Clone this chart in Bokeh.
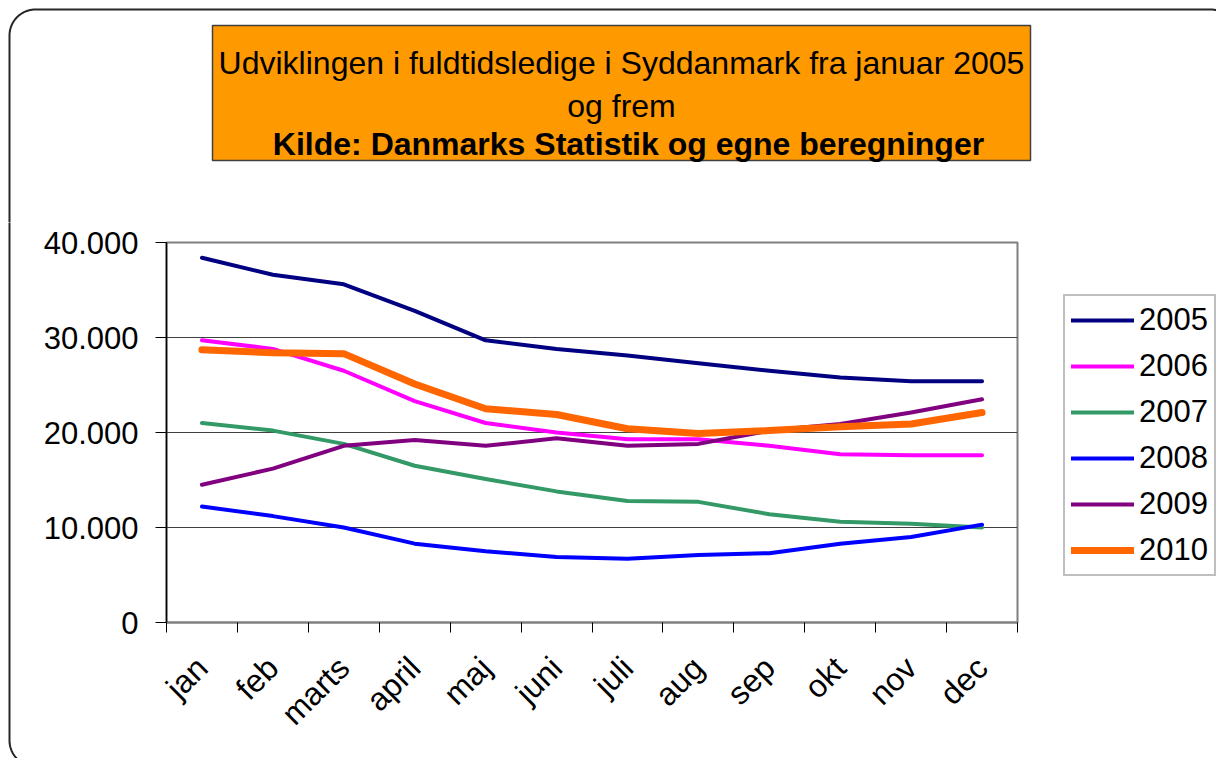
import math
import numpy as np
from bokeh.plotting import figure
from bokeh.layouts import column, row
from bokeh.models import FixedTicker, Legend, LegendItem, Range1d, Plot
from bokeh.core.properties import value
from bokeh.embed import file_html
from bokeh.resources import INLINE

months = ["jan", "feb", "marts", "april", "maj", "juni", "juli", "aug", "sep", "okt", "nov", "dec"]
years = ["2005", "2006", "2007", "2008", "2009", "2010"]
y2005 = [38400, 36600, 35600, 32800, 29700, 28800, 28100, 27300, 26500, 25800, 25400, 25400]
y2006 = [29700, 28800, 26500, 23300, 21000, 20000, 19300, 19300, 18600, 17700, 17600, 17600]
y2007 = [21000, 20200, 18800, 16500, 15100, 13800, 12800, 12700, 11400, 10600, 10400, 10000]
y2008 = [12200, 11200, 10000, 8300, 7500, 6900, 6700, 7100, 7300, 8300, 9000, 10300]
y2009 = [14500, 16200, 18600, 19200, 18600, 19400, 18600, 18800, 20200, 20900, 22100, 23500]
y2010 = [28700, 28400, 28300, 25100, 22500, 21900, 20400, 19900, 20200, 20600, 20900, 22100]
y_ticks = [0, 10000, 20000, 30000, 40000]
y_tick_labels = ["0", "10.000", "20.000", "30.000", "40.000"]
title_lines = ["Udviklingen i fuldtidsledige i Syddanmark fra januar 2005", "og frem",
               "Kilde: Danmarks Statistik og egne beregninger"]

series = [y2005, y2006, y2007, y2008, y2009, y2010]
colors = ["#000080", "#FF00FF", "#339966", "#0000FF", "#800080", "#FF6600"]
widths = [4, 4, 4, 4, 4, 7]

FONT = "Liberation Sans"
W, H = 1216, 758
TOP_H = 222      # height of the title strip
STRIP_W = 40     # width of the left border strip
LEG_W = 176      # width of the legend area
CHART_W = W - STRIP_W - LEG_W
BL, BR, BT, BB = 9, 1236, 9, 766   # outer rounded frame edges (page pixels)
RADIUS = 26
BORDER_COLOR = "#262626"
HAS_FRAME_ALIGN = "frame_align" in Plot.properties()


def unalign(f):
    if HAS_FRAME_ALIGN:
        f.frame_align = False
    return f


def blank(width, height, xr, yr):
    f = figure(width=width, height=height, x_range=xr, y_range=yr,
               x_axis_type=None, y_axis_type=None, output_backend="svg",
               toolbar_location=None, min_border=0)
    f.outline_line_color = None
    f.background_fill_color = "white"
    f.border_fill_color = "white"
    f.grid.grid_line_color = None
    return unalign(f)


def corner(cx, cy, a0, a1, n=24):
    t = np.linspace(a0, a1, n)
    return list(cx + RADIUS * np.cos(t)), list(cy + RADIUS * np.sin(t))


# ---------- title strip (y grows downward) ----------
top = blank(W, TOP_H, Range1d(0, W), Range1d(TOP_H, 0))
cx1, cy1 = corner(BL + RADIUS, BT + RADIUS, math.pi, 1.5 * math.pi)
cx2, cy2 = corner(BR - RADIUS, BT + RADIUS, 1.5 * math.pi, 2 * math.pi)
top.line([BL] + cx1 + cx2 + [BR], [TOP_H + 2] + cy1 + cy2 + [TOP_H + 2],
         line_color=BORDER_COLOR, line_width=2)
top.quad(left=[212], right=[1030], top=[25], bottom=[160],
         fill_color="#FF9900", line_color="#404040", line_width=1.5)
top.text(x=[621, 621], y=[62, 105], text=title_lines[:2], text_align="center",
         text_baseline="alphabetic", text_font=value(FONT), text_font_size="32px",
         text_color="black")
top.text(x=[628], y=[143], text=title_lines[2:], text_align="center",
         text_baseline="alphabetic", text_font=value(FONT), text_font_size="32px",
         text_font_style="bold", text_color="black")

# ---------- left border strip (y grows downward) ----------
strip = blank(STRIP_W, H - TOP_H, Range1d(0, STRIP_W), Range1d(H, TOP_H))
cx3, cy3 = corner(BL + RADIUS, BB - RADIUS, math.pi, 0.5 * math.pi)
strip.line([BL] + cx3 + [STRIP_W + 2], [TOP_H - 2] + cy3 + [BB],
           line_color=BORDER_COLOR, line_width=2)

# ---------- chart ----------
x = [i + 0.5 for i in range(len(months))]
p = figure(width=CHART_W, height=H - TOP_H,
           x_range=Range1d(0, len(months)), y_range=Range1d(0, 40000),
           output_backend="svg", toolbar_location=None,
           min_border_left=166 - STRIP_W, min_border_right=CHART_W - (1017 - STRIP_W),
           min_border_top=242 - TOP_H, min_border_bottom=H - 622)
unalign(p)
p.background_fill_color = "white"
p.border_fill_color = "white"
p.outline_line_color = "#808080"
p.outline_line_width = 2

for ys, c, w in zip(series, colors, widths):
    p.line(x, ys, line_color=c, line_width=w, line_cap="round", line_join="round")

xa = p.xaxis[0]
xa.ticker = FixedTicker(ticks=x, minor_ticks=list(range(len(months) + 1)))
xa.major_label_overrides = {xx: m for xx, m in zip(x, months)}
xa.major_label_orientation = math.pi / 4
xa.major_tick_out = 0
xa.major_tick_in = 0
xa.minor_tick_out = 10
xa.minor_tick_in = 0
xa.minor_tick_line_color = "black"
xa.minor_tick_line_width = 1
xa.axis_line_color = "#808080"
xa.axis_line_width = 2
xa.major_label_text_font = FONT
xa.major_label_text_font_size = "32px"
xa.major_label_text_color = "black"
xa.major_label_standoff = 30

ya = p.yaxis[0]
ya.ticker = FixedTicker(ticks=y_ticks)
ya.major_label_overrides = {t: l for t, l in zip(y_ticks, y_tick_labels)}
ya.major_tick_out = 11
ya.major_tick_in = 0
ya.major_tick_line_color = "black"
ya.minor_tick_line_color = None
ya.axis_line_color = "black"
ya.axis_line_width = 1.5
ya.major_label_text_font = FONT
ya.major_label_text_font_size = "31px"
ya.major_label_text_color = "black"
ya.major_label_standoff = 17

p.xgrid.grid_line_color = None
p.ygrid.grid_line_color = "#404040"
p.ygrid.grid_line_width = 1

# ---------- legend area (key lines hold the same series, kept out of view) ----------
leg = blank(LEG_W, H - TOP_H, Range1d(-2, -1), Range1d(-2, -1))
keys = [leg.line(x, ys, line_color=c, line_width=w, line_cap="round")
        for ys, c, w in zip(series, colors, widths)]
legend = Legend(items=[LegendItem(label=yr, renderers=[r]) for yr, r in zip(years, keys)],
                location=(1063 - (W - LEG_W), H - 576), orientation="vertical",
                label_text_font=FONT, label_text_font_size="31px", label_text_color="black",
                glyph_width=63, glyph_height=36, label_height=36, spacing=10, padding=6, margin=0,
                label_standoff=5, border_line_color="#808080", border_line_width=2,
                background_fill_color="white", background_fill_alpha=1)
leg.add_layout(legend)

layout = column(top, row(strip, p, leg, spacing=0), spacing=0)
open("out.html", "w").write(file_html(layout, INLINE))
